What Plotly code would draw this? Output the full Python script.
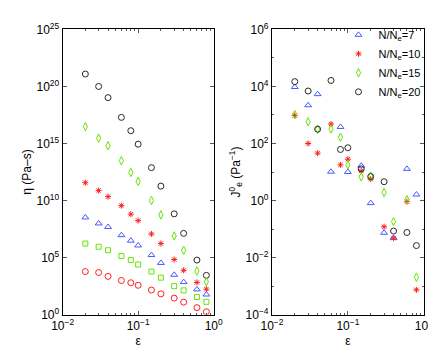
import plotly.graph_objects as go

eps = [0.02, 0.03, 0.04, 0.06, 0.08, 0.1, 0.15, 0.2, 0.3, 0.4, 0.6, 0.8]

# log10 of viscosity (left panel)
eta_20 = [21.09, 20.0, 19.02, 17.29, 16.12, 14.94, 12.88, 11.26, 8.83, 7.12, 4.78, 3.44]
eta_15 = [16.48, 15.47, 14.8, 13.49, 12.46, 11.68, 10.0, 8.74, 6.9, 5.64, 3.83, 2.88]
eta_10 = [11.56, 10.87, 10.34, 9.55, 8.8, 8.24, 7.07, 6.23, 4.83, 3.88, 2.82, 2.23]
eta_7 = [8.52, 7.99, 7.68, 6.96, 6.48, 6.06, 5.22, 4.53, 3.49, 2.85, 2.21, 1.76]
eta_5 = [6.23, 5.95, 5.64, 5.14, 4.78, 4.39, 3.77, 3.24, 2.49, 2.12, 1.54, 1.12]
eta_3 = [3.77, 3.69, 3.35, 2.99, 2.79, 2.57, 2.15, 1.82, 1.45, 1.09, 0.61, 0.25]

# log10 of recoverable compliance (right panel)
je_7 = [3.98, 3.34, 3.73, 1.01, 2.58, 1.0, 1.22, -0.09, -1.13, -1.31, 1.11, 0.21]
je_10 = [2.98, 2.0, 1.66, 2.68, 1.25, 1.45, 1.04, 0.75, -0.92, -1.32, -0.04, -3.13]
je_15 = [3.01, 2.76, 2.5, 2.51, 2.22, 1.25, 0.83, 0.86, 0.28, -0.74, 0.03, -2.69]
je_20 = [4.17, 3.84, 2.5, 4.21, 1.79, 1.85, 1.11, 0.84, 0.66, -1.07, -1.12, -1.58]

BLUE = "rgb(70,90,255)"
RED = "rgb(255,30,30)"
GREEN = "rgb(100,230,0)"
BLACK = "rgb(40,40,40)"

fig = go.Figure()


def add(y, sym, color, name, axis, legend=False, size=6):
    fig.add_trace(go.Scatter(
        x=eps, y=[10.0 ** v for v in y], mode="markers", name=name,
        xaxis="x" + axis, yaxis="y" + axis, showlegend=legend,
        marker=dict(symbol=sym, size=size, color=color,
                    line=dict(color=color, width=1)),
    ))


add(eta_20, "circle-open", BLACK, "20", "")
add(eta_15, "diamond-tall-open", GREEN, "15", "")
add(eta_10, "asterisk-open", RED, "10", "", size=5)
add(eta_7, "triangle-up-open", BLUE, "7", "")
add(eta_5, "square-open", GREEN, "5", "", size=5)
add(eta_3, "circle-open", RED, "3", "")

add(je_7, "triangle-up-open", BLUE, "N/N<sub>e</sub>=7", "2", True)
add(je_10, "asterisk-open", RED, "N/N<sub>e</sub>=10", "2", True, size=5)
add(je_15, "diamond-tall-open", GREEN, "N/N<sub>e</sub>=15", "2", True)
add(je_20, "circle-open", BLACK, "N/N<sub>e</sub>=20", "2", True)

FONT = dict(family="Liberation Sans, Arial", size=12, color="black")


def sup(p):
    s = str(p).replace("-", "\u2212")
    return "10<sup>" + s + "</sup>"


axis_common = dict(
    type="log", showline=True, mirror="ticks", linecolor="black", linewidth=1,
    ticks="inside", ticklen=4, tickcolor="rgb(90,90,90)", showgrid=False,
    zeroline=False, tickfont=FONT, tickmode="array",
)
x_pows = [-2, -1, 0]
x_common = dict(axis_common, range=[-2, 0],
                tickvals=[10.0 ** p for p in x_pows], ticktext=[sup(p) for p in x_pows],
                minor=dict(ticks="inside", ticklen=2, tickcolor="rgb(90,90,90)",
                           tickvals=[m * 10.0 ** p for p in [-2, -1] for m in range(2, 10)]),
                title=dict(text="\u03b5", font=FONT, standoff=4))

y1_pows = [0, 5, 10, 15, 20, 25]
y2_pows = [-4, -2, 0, 2, 4, 6]

fig.update_layout(
    width=436, height=347,
    margin=dict(l=0, r=0, t=0, b=0),
    paper_bgcolor="white", plot_bgcolor="white",
    font=FONT,
    xaxis=dict(x_common, domain=[0.1048, 0.468], anchor="y"),
    xaxis2=dict(x_common, domain=[0.608, 0.973], anchor="y2"),
    yaxis=dict(axis_common, range=[0, 25], domain=[0.1009, 0.9625], anchor="x",
               tickvals=[10.0 ** p for p in y1_pows], ticktext=[sup(p) for p in y1_pows],
               title=dict(text="\u03b7 (Pa\u2013s)", font=FONT, standoff=2)),
    yaxis2=dict(axis_common, range=[-4, 6], domain=[0.1009, 0.9625], anchor="x2",
                tickvals=[10.0 ** p for p in y2_pows], ticktext=[sup(p) for p in y2_pows],
                minor=dict(ticks="inside", ticklen=2, tickcolor="rgb(90,90,90)",
                           tickvals=[10.0 ** p for p in [-3, -1, 1, 3, 5]]),
                title=dict(text="J<sup>0</sup><sub>e</sub> (Pa<sup>\u22121</sup>)",
                           font=FONT, standoff=2)),
    legend=dict(x=0.768, y=0.99, xanchor="left", yanchor="top",
                bgcolor="rgba(0,0,0,0)",
                font=dict(family="Liberation Sans, Arial", size=11, color="black")),
)

fig.write_html("out.html")
